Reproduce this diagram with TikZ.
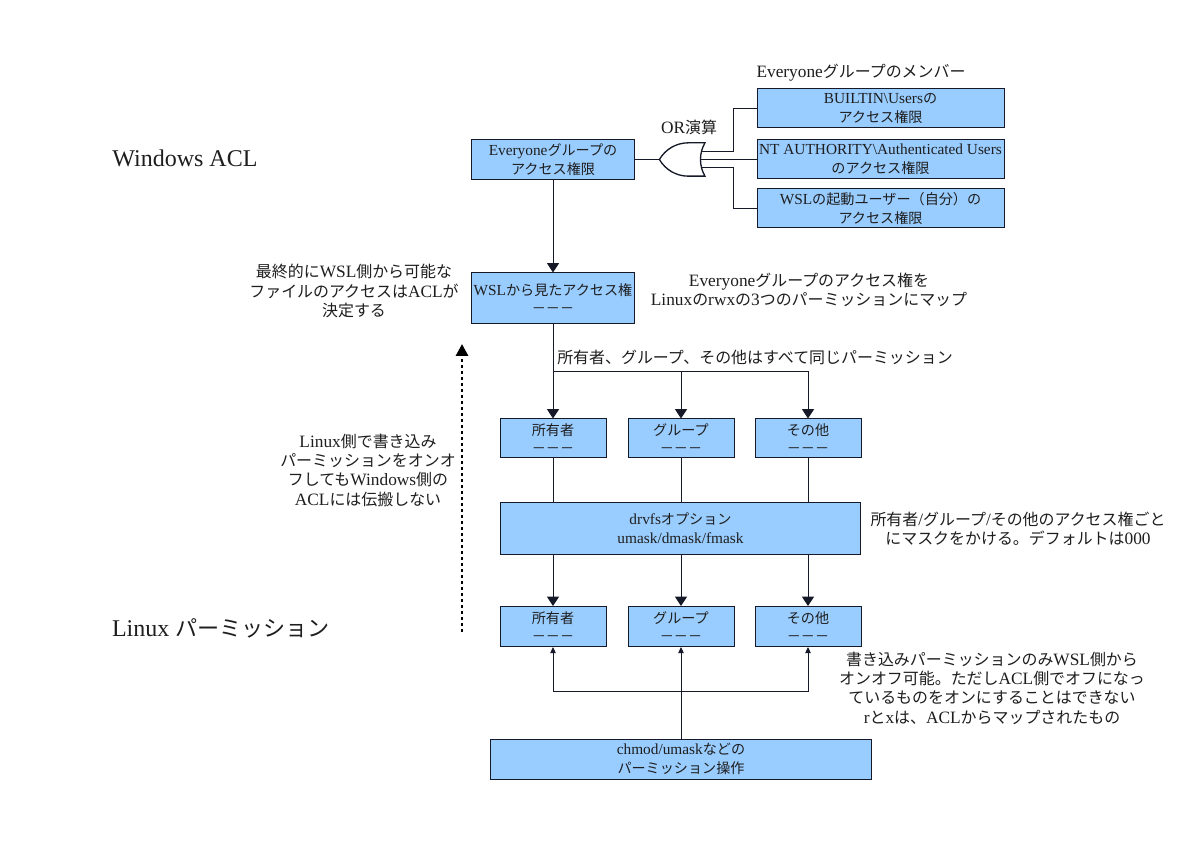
\documentclass[tikz,border=0pt]{standalone}
\usepackage{fontspec}
\setmainfont{Liberation Serif}
\newfontfamily\jafont[Scale=0.92]{Noto Sans CJK JP}
% Japanese runs switch to the gothic face by themselves
\XeTeXinterchartokenstate=1
\newXeTeXintercharclass\jaclass
\makeatletter
\newcommand\setjarange[2]{%
  \count@=#1\relax
  \loop\ifnum\count@<#2\relax
    \XeTeXcharclass\count@=\jaclass
    \advance\count@ by 1
  \repeat}
\makeatother
\setjarange{"3000}{"3100}
\setjarange{"4E00}{"A000}
\setjarange{"FF00}{"FF60}
\XeTeXinterchartoks 0 \jaclass = {\begingroup\jafont}
\XeTeXinterchartoks 4095 \jaclass = {\begingroup\jafont}
\XeTeXinterchartoks \jaclass 0 = {\endgroup}
\XeTeXinterchartoks \jaclass 4095 = {\endgroup}
\usepackage{xcolor}
\definecolor{boxblue}{RGB}{153,204,255}
\definecolor{coal}{RGB}{30,30,30}
\definecolor{edge}{RGB}{22,26,40}
\usepackage{tikz}
\usetikzlibrary{arrows.meta,positioning,shapes.gates.logic.US}
\newcommand\boxtxt{\fontsize{11.5}{14}\selectfont}
\newcommand\notetxt{\fontsize{13}{14.5}\selectfont}
\newcommand\titletxt{\fontsize{18}{20}\selectfont}
\tikzset{
  permbox/.style={draw=edge, fill=boxblue, line width=0.75pt, align=center,
                  font=\boxtxt, text=coal, inner sep=1pt},
  note/.style={align=center, font=\notetxt, text=coal, inner sep=0pt},
  heading/.style={font=\titletxt, text=coal, inner sep=0pt},
  link/.style={draw=edge, line width=0.75pt},
  arr/.style={link, -{Triangle[width=9pt,length=7pt]}},
  arrs/.style={link, -{Triangle[width=4pt,length=4.5pt]}},
  dotarr/.style={draw=black, line width=2.2pt, dash pattern=on 2.2pt off 2.3pt,
                 -{Triangle[width=9pt,length=9pt]}},
}

\begin{document}
\begin{tikzpicture}[x=0.75pt,y=-0.75pt]
\fill[white] (0,0) rectangle (1200,848);
\useasboundingbox (0,0) rectangle (1200,848);

% Windows side
\node[heading] (ttlwin) at (185,158) {Windows ACL};
\node[permbox, minimum width=122.25pt, minimum height=30pt] (everyone) at (553,159.5)
  {Everyoneグループの\\アクセス権限};
\node[or gate US, draw=edge, fill=white, line width=1pt, logic gate inputs=nnn,
      logic gate input sep=6pt, rotate=180, inner sep=0pt,
      minimum width=34pt, minimum height=25pt] (orgate) at (685.5,159.5) {};
\node[note] (lblor) at (689,127) {OR演算};
\node[note] (lblmembers) at (861,73) {Everyoneグループのメンバー};
\node[permbox, minimum width=185.25pt, minimum height=29.25pt] (builtin) at (880.5,108.5)
  {BUILTIN\textbackslash Usersの\\アクセス権限};
\node[permbox, minimum width=185.25pt, minimum height=29.25pt] (ntauth) at (880.5,159)
  {NT AUTHORITY\textbackslash Authenticated Users\\のアクセス権限};
\node[permbox, minimum width=185.25pt, minimum height=29.25pt] (wslself) at (880.5,208.5)
  {WSLの起動ユーザー（自分）の\\アクセス権限};
\coordinate (fork) at (733,159.5);

\draw[link] (everyone.east) -- (orgate.output);
\draw[link] (orgate.input 3) -- (orgate.input 3 -| fork) |- (builtin.west);
\draw[link] (orgate.input 2) -- (orgate.input 2 -| ntauth.west);
\draw[link] (orgate.input 1) -- (orgate.input 1 -| fork) |- (wslself.west);

% mapped view
\node[permbox, minimum width=122.25pt, minimum height=38.25pt] (wslview) at (553,298.5)
  {WSLから見たアクセス権\\－－－};
\node[note] (notefinal) at (354,291) {最終的にWSL側から可能な\\ファイルのアクセスはACLが\\決定する};
\node[note] (notemap) at (809,290) {Everyoneグループのアクセス権を\\Linuxのrwxの3つのパーミッションにマップ};
\node[note, anchor=west] (notesame) at (557,357) {所有者、グループ、その他はすべて同じパーミッション};
\draw[arr] (everyone) -- (wslview);

% Linux side
\node[permbox, minimum width=79.5pt, minimum height=29.25pt] (own1) at (553,438.5) {所有者\\－－－};
\node[permbox, minimum width=79.5pt, minimum height=29.25pt] (grp1) at (681,438.5) {グループ\\－－－};
\node[permbox, minimum width=79.5pt, minimum height=29.25pt] (oth1) at (808,438.5) {その他\\－－－};
\node[permbox, minimum width=270pt, minimum height=38.25pt] (drvfs) at (680.5,528.5)
  {drvfsオプション\\umask/dmask/fmask};
\node[permbox, minimum width=79.5pt, minimum height=30pt] (own2) at (553,626.5) {所有者\\－－－};
\node[permbox, minimum width=79.5pt, minimum height=30pt] (grp2) at (681,626.5) {グループ\\－－－};
\node[permbox, minimum width=79.5pt, minimum height=30pt] (oth2) at (808,626.5) {その他\\－－－};
\node[permbox, minimum width=285.75pt, minimum height=30pt] (chmod) at (681,759)
  {chmod/umaskなどの\\パーミッション操作};
\node[heading] (ttllinux) at (221,628) {Linux パーミッション};
\node[note] (noteprop) at (368,470) {Linux側で書き込み\\パーミッションをオンオ\\フしてもWindows側の\\ACLには伝搬しない};
\node[note] (notemask) at (1018,529) {所有者/グループ/その他のアクセス権ごと\\にマスクをかける。デフォルトは000};
\node[note] (notewrite) at (992,688) {書き込みパーミッションのみWSL側から\\オンオフ可能。ただしACL側でオフになっ\\ているものをオンにすることはできない\\rとxは、ACLからマップされたもの};
\coordinate (split1) at (553,372);
\coordinate (split2) at (681,691);
\coordinate (dotlow) at (462,632);
\coordinate (dothigh) at (462,344);

\draw[arr] (wslview) -- (own1);
\draw[arr] (split1) -| (grp1.north);
\draw[arr] (split1) -| (oth1.north);
\foreach \col in {own,grp,oth}{
  \draw[link] (\col1.south) -- (\col1.south |- drvfs.north);
  \draw[arr] (\col2.north |- drvfs.south) -- (\col2.north);
}
\draw[arrs] (chmod.north) -- (grp2.south);
\draw[arrs] (split2) -| (own2.south);
\draw[arrs] (split2) -| (oth2.south);
\draw[dotarr] (dotlow) -- (dothigh);
\end{tikzpicture}
\end{document}
